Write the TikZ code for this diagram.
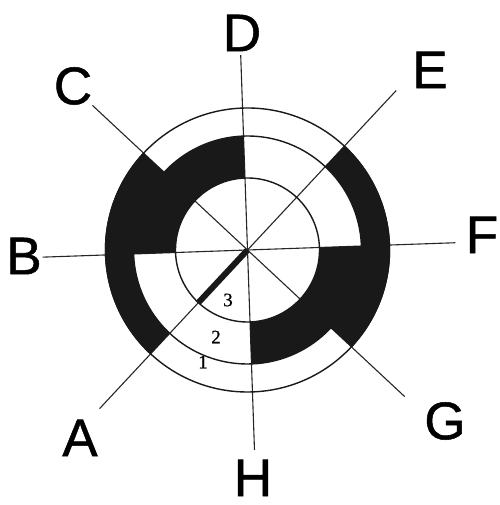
\documentclass[tikz,border=0pt]{standalone}
\usepackage{fontspec}
\setmainfont{Liberation Sans}
\newfontfamily\lblfont{Liberation Sans}[FakeBold=1]
\newfontfamily\digitfont{Liberation Serif}[FakeBold=0.6]
\begin{document}
\begin{tikzpicture}[x=1pt,y=1pt,
  lbl/.style={font=\lblfont\fontsize{53}{53}\selectfont, inner sep=0pt},
  num/.style={font=\digitfont\fontsize{19}{19}\selectfont, inner sep=0pt},
  ray/.style={line width=1.1pt, black!85},
  ring/.style={line width=1.4pt, black!90},
  blk/.style={fill=black!90}]
\useasboundingbox (0,0) rectangle (499,505);
\coordinate (O) at (247.5,255);
% labels
\node[lbl] (D) at (242,472) {D};
\node[lbl] (C) at (73,419) {C};
\node[lbl] (E) at (430,435) {E};
\node[lbl] (B) at (24,249) {B};
\node[lbl] (F) at (482,270) {F};
\node[lbl] (A) at (80,67) {A};
\node[lbl] (G) at (445,84) {G};
\node[lbl] (H) at (253,27) {H};
\node[num] (n3) at (228,205) {3};
\node[num] (n2) at (216,168) {2};
\node[num] (n1) at (203,143) {1};
\begin{scope}[shift={(O)}, rotate=2]
  \coordinate (eD) at (90:195);
  \coordinate (eE) at (45:218);
  \coordinate (eF) at (0:208);
  \coordinate (eG) at (-45:215);
  \coordinate (eH) at (-90:200);
  \coordinate (eA) at (225:217);
  \coordinate (eB) at (180:205);
  \coordinate (eC) at (135:212);
  \coordinate (c) at (0,0);
  % rays
  \draw[ray] (eD) -- (c) -- (eH);
  \draw[ray] (eB) -- (c) -- (eF);
  \draw[ray] (eC) -- (c) -- (eG);
  \draw[ray] (eA) -- (c) -- (eE);
  % rings
  \draw[ring] (c) circle[radius=142];
  \draw[ring] (c) circle[radius=114];
  \draw[ring] (c) circle[radius=72];
  % black regions
  \fill[blk] (90:114) arc[start angle=90,end angle=135,radius=114]
     -- (135:142.7) arc[start angle=135,end angle=225,radius=142.7]
     -- (225:114) arc[start angle=225,end angle=180,radius=114]
     -- (180:72) arc[start angle=180,end angle=90,radius=72] -- cycle;
  \fill[blk] (270:114) arc[start angle=270,end angle=315,radius=114]
     -- (315:142.7) arc[start angle=315,end angle=405,radius=142.7]
     -- (45:114) arc[start angle=45,end angle=0,radius=114]
     -- (0:72) arc[start angle=360,end angle=270,radius=72] -- cycle;
  % thick bar
  \draw[line width=6pt, black!90] (c) -- (225:72);
\end{scope}
\end{tikzpicture}
\end{document}
